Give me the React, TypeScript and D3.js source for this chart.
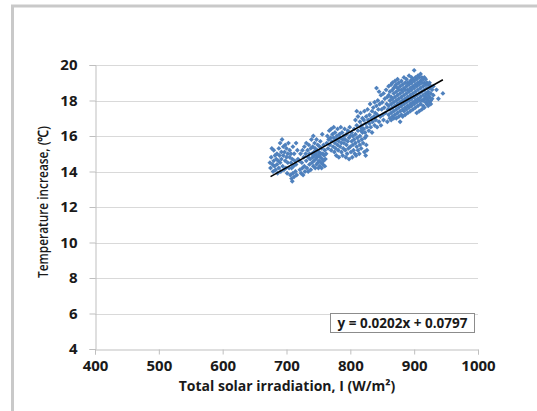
import React, { useEffect, useRef } from 'react';
import * as d3 from 'd3';

type Pt = [number, number];

const xTicks = [400, 500, 600, 700, 800, 900, 1000];
const yTicks = [4, 6, 8, 10, 12, 14, 16, 18, 20];
const trendRange = [675, 945];
const slope = 0.0202;
const intercept = 0.0797;
const equationLabel = 'y = 0.0202x + 0.0797';

// readings, grouped by cloud
const cloudA: Pt[] = [
  [674, 14.5], [675, 14.2], [676, 14.8], [677, 15.3], [678, 14.4], [679, 14.0], [680, 14.6], [680, 15.2],
  [681, 14.3], [682, 14.9], [683, 14.1], [684, 14.7], [685, 15.0], [685, 14.4], [686, 13.9], [687, 14.6],
  [688, 15.3], [688, 14.2], [689, 14.9], [690, 14.5], [690, 15.6], [691, 14.0], [692, 15.1], [692, 14.7],
  [693, 15.8], [694, 14.3], [695, 15.4], [695, 14.9], [696, 14.1], [697, 15.1], [698, 14.6], [698, 15.5],
  [699, 14.2], [700, 14.8], [700, 15.3], [701, 13.9], [702, 15.0], [702, 14.5], [703, 15.6], [704, 14.2],
  [705, 14.8], [705, 15.2], [706, 13.8], [707, 14.5], [707, 15.0], [708, 13.6], [708, 14.2], [709, 13.45],
  [709, 14.7], [710, 13.9], [710, 15.4], [711, 14.3], [712, 13.7], [712, 15.0], [713, 14.6], [714, 14.0],
  [715, 15.6], [715, 14.4], [716, 13.8], [717, 15.2], [718, 14.7],
];

const cloudB: Pt[] = [
  [720, 14.6], [721, 14.1], [722, 15.0], [723, 13.9], [724, 14.5], [725, 15.2], [725, 14.2], [726, 13.8],
  [727, 14.8], [728, 15.4], [728, 14.3], [729, 14.0], [730, 15.0], [731, 14.6], [731, 15.6], [732, 14.2],
  [733, 15.2], [734, 14.8], [734, 14.0], [735, 15.5], [736, 14.4], [736, 15.0], [737, 14.7], [738, 15.3],
  [738, 14.1], [739, 15.8], [740, 14.5], [740, 15.0], [741, 14.8], [741, 15.4], [742, 16.0], [742, 14.3],
  [743, 15.1], [743, 14.6], [744, 15.6], [744, 14.9], [745, 14.2], [745, 15.3], [746, 14.7], [746, 15.0],
  [747, 14.4], [747, 15.8], [748, 15.2], [748, 14.8], [749, 14.5], [749, 15.5], [750, 14.9], [750, 14.2],
  [751, 15.1], [751, 14.6], [752, 15.4], [752, 14.3], [753, 14.8], [753, 15.7], [754, 14.5], [754, 15.0],
  [755, 14.2], [755, 15.3], [756, 14.7], [756, 16.1], [757, 14.4], [757, 15.0], [758, 15.5], [758, 14.6],
  [759, 14.9], [760, 14.3], [760, 15.2], [761, 14.7], [762, 15.0],
];

const cloudC: Pt[] = [
  [763, 15.6], [764, 16.0], [765, 15.3], [766, 15.8], [767, 16.3], [768, 15.5], [769, 15.9], [770, 15.2],
  [770, 16.4], [771, 15.7], [772, 16.1], [773, 15.4], [774, 15.9], [774, 16.5], [775, 15.1], [776, 15.6],
  [776, 16.2], [777, 15.3], [778, 15.8], [778, 14.9], [779, 16.0], [780, 15.5], [780, 16.4], [781, 15.2],
  [782, 15.7], [782, 14.8], [783, 16.1], [784, 15.4], [784, 15.9], [785, 16.5], [786, 15.1], [786, 15.6],
  [787, 16.2], [788, 15.8], [788, 14.9], [789, 15.3], [790, 16.0], [790, 15.6], [791, 16.4], [792, 15.2],
  [792, 15.8], [793, 14.8], [794, 15.5], [794, 16.1], [795, 15.0], [796, 15.7], [796, 16.3], [797, 15.3],
  [798, 15.9], [798, 14.7], [799, 16.5], [800, 15.4], [800, 16.0], [801, 15.1], [802, 15.7], [802, 16.2],
  [803, 14.8], [804, 15.5], [804, 16.0], [805, 15.2], [806, 16.4], [806, 15.8], [807, 15.0], [808, 15.6],
  [808, 16.1], [809, 14.9], [810, 15.4], [810, 16.6], [811, 15.9], [812, 15.2], [812, 16.3], [813, 15.7],
  [814, 15.0], [815, 16.0], [815, 15.5], [816, 16.5], [817, 15.3], [818, 15.8], [819, 16.2], [820, 15.6],
  [821, 16.4], [822, 15.1], [823, 15.9], [824, 14.9], [825, 15.5], [826, 15.2],
];

const cloudD: Pt[] = [
  [808, 16.9], [810, 17.4], [812, 17.1], [815, 16.8], [816, 17.3], [817, 16.3], [818, 16.6], [819, 17.0],
  [820, 16.4], [821, 16.9], [822, 17.4], [823, 16.2], [824, 16.7], [825, 17.1], [825, 16.0], [826, 16.5],
  [827, 17.5], [828, 16.9], [829, 16.3], [830, 17.2], [830, 16.7], [831, 17.8], [832, 16.5], [833, 17.0],
  [834, 17.4], [834, 16.2], [835, 16.8], [836, 17.6], [837, 17.1], [838, 16.6], [838, 17.9], [839, 17.3],
  [840, 16.9], [841, 17.7], [841, 18.7], [842, 17.2], [842, 16.5], [843, 18.0], [844, 17.5], [845, 16.8],
  [845, 18.5], [846, 17.8], [847, 17.1], [848, 18.3], [848, 16.6], [849, 17.5], [850, 17.9], [851, 17.2],
  [852, 18.4], [852, 16.9], [853, 17.6], [854, 18.1], [855, 17.3], [856, 18.6], [857, 17.8], [858, 16.8],
  [858, 18.2], [859, 17.5],
];

const cloudE: Pt[] = [
  [860, 17.2], [860, 17.7], [860, 18.3], [860, 18.8], [862, 17.0], [862, 17.5], [862, 18.0], [862, 18.5],
  [864, 17.3], [864, 17.8], [864, 18.2], [864, 18.9], [864, 16.9], [866, 17.1], [866, 17.6], [866, 18.1],
  [866, 18.6], [866, 19.0], [868, 17.4], [868, 17.9], [868, 18.4], [868, 17.0], [868, 18.7], [870, 17.2],
  [870, 17.7], [870, 18.2], [870, 18.8], [870, 19.1], [872, 17.5], [872, 18.0], [872, 18.5], [872, 17.0],
  [872, 18.9], [874, 17.3], [874, 17.8], [874, 18.3], [874, 18.7], [874, 19.2], [876, 17.6], [876, 18.1],
  [876, 18.6], [876, 17.1], [876, 19.0], [878, 17.4], [878, 17.9], [878, 18.4], [878, 18.8], [878, 16.8],
  [880, 17.7], [880, 18.2], [880, 18.6], [880, 17.2], [880, 19.1], [882, 17.5], [882, 18.0], [882, 18.5],
  [882, 18.9], [882, 17.1], [884, 17.8], [884, 18.3], [884, 18.7], [884, 17.4], [884, 19.3], [886, 17.6],
  [886, 18.1], [886, 18.6], [886, 19.0], [886, 17.2], [888, 17.9], [888, 18.4], [888, 18.8], [888, 17.5],
  [888, 19.2], [890, 17.7], [890, 18.2], [890, 18.6], [890, 19.0], [890, 17.3], [892, 18.0], [892, 18.5],
  [892, 18.9], [892, 17.6], [892, 19.4], [894, 17.8], [894, 18.3], [894, 18.7], [894, 19.1], [894, 17.4],
  [896, 18.1], [896, 18.6], [896, 19.0], [896, 17.7], [896, 19.3], [898, 17.9], [898, 18.4], [898, 18.8],
  [898, 19.2], [898, 17.5], [900, 18.2], [900, 18.7], [900, 19.1], [900, 17.8], [900, 19.7], [902, 18.0],
  [902, 18.5], [902, 18.9], [902, 19.3], [902, 17.6], [904, 18.3], [904, 18.8], [904, 19.2], [904, 17.9],
  [904, 17.3], [906, 18.1], [906, 18.6], [906, 19.0], [906, 19.4], [906, 17.7], [908, 18.4], [908, 18.9],
  [908, 19.3], [908, 18.0], [908, 17.4], [910, 18.2], [910, 18.7], [910, 19.1], [910, 19.5], [910, 17.8],
  [912, 18.5], [912, 19.0], [912, 18.0], [912, 17.5], [912, 19.3], [914, 18.3], [914, 18.8], [914, 19.2],
  [914, 17.7], [914, 18.0], [916, 18.6], [916, 19.0], [916, 18.1], [916, 17.6], [916, 19.3], [918, 18.4],
  [918, 18.9], [918, 17.9], [918, 19.2], [918, 18.2], [920, 18.7], [920, 18.1], [920, 17.8], [920, 19.0],
  [920, 18.4], [922, 18.5], [922, 18.9], [922, 18.0], [922, 17.7], [922, 18.3], [924, 18.2], [924, 18.7],
  [924, 19.0], [924, 17.9], [926, 18.4], [926, 18.0], [926, 18.8], [926, 17.8], [928, 18.6], [928, 18.1],
  [930, 18.3], [930, 18.8], [935, 18.6], [938, 18.1], [945, 18.4],
];

const points: Pt[] = [...cloudA, ...cloudB, ...cloudC, ...cloudD, ...cloudE];

const font = '"Open Sans", sans-serif';
const ink = '#1a1a1a';

const App = () => {
  const ref = useRef<SVGSVGElement>(null);
  const width = 537;
  const height = 411;
  const plot = { left: 95, right: 478, top: 65, bottom: 349 };

  useEffect(() => {
    const svg = d3.select(ref.current);
    svg.selectAll('*').remove();

    //outer frame
    svg
      .append('rect')
      .attr('x', 12.5)
      .attr('y', 6)
      .attr('width', 600)
      .attr('height', 600)
      .attr('fill', '#fff')
      .attr('stroke', '#c9c9c9')
      .attr('stroke-width', 3);

    const x = d3.scaleLinear().domain([400, 1000]).range([plot.left, plot.right]);
    const y = d3.scaleLinear().domain([4, 20]).range([plot.bottom, plot.top]);

    //gridlines
    svg
      .append('g')
      .selectAll('line')
      .data(yTicks.slice(1))
      .join('line')
      .attr('x1', plot.left)
      .attr('x2', plot.right)
      .attr('y1', (d) => Math.round(y(d)) + 0.5)
      .attr('y2', (d) => Math.round(y(d)) + 0.5)
      .attr('stroke', '#d9d9d9');

    //y axis
    const yAxis = svg
      .append('g')
      .attr('transform', `translate(${plot.left + 0.5},0)`)
      .call(d3.axisLeft(y).tickValues(yTicks).tickFormat(d3.format('d')).tickSize(6).tickPadding(12));
    yAxis.select('.domain').attr('stroke', '#bfbfbf');
    yAxis.selectAll('.tick line').attr('stroke', '#bfbfbf');

    //x axis
    const xAxis = svg
      .append('g')
      .attr('transform', `translate(0,${plot.bottom + 0.5})`)
      .call(d3.axisBottom(x).tickValues(xTicks).tickFormat(d3.format('d')).tickSize(5).tickPadding(6));
    xAxis.select('.domain').attr('stroke', '#bfbfbf');
    xAxis.selectAll('.tick line').attr('stroke', '#bfbfbf');

    svg
      .selectAll('.tick text')
      .attr('font-family', font)
      .attr('font-weight', 700)
      .attr('font-size', 15)
      .attr('fill', ink);

    //points
    const marker = d3.symbol().type(d3.symbolSquare).size(12);
    svg
      .append('g')
      .selectAll('path')
      .data(points)
      .join('path')
      .attr('d', marker)
      .attr('transform', (d) => `translate(${x(d[0])},${y(d[1])}) rotate(45)`)
      .attr('fill', '#4f81bd');

    //trend line
    svg
      .append('line')
      .attr('x1', x(trendRange[0]))
      .attr('y1', y(slope * trendRange[0] + intercept))
      .attr('x2', x(trendRange[1]))
      .attr('y2', y(slope * trendRange[1] + intercept))
      .attr('stroke', '#000')
      .attr('stroke-width', 1.5);

    //equation box
    const eq = svg.append('g').attr('transform', 'translate(330,313)');
    eq.append('rect')
      .attr('x', 0.5)
      .attr('y', 0.5)
      .attr('width', 144)
      .attr('height', 19)
      .attr('fill', '#fff')
      .attr('stroke', '#8c8c8c');
    eq.append('text')
      .attr('x', 72.5)
      .attr('y', 15)
      .attr('text-anchor', 'middle')
      .attr('font-family', font)
      .attr('font-weight', 700)
      .attr('font-size', 13.5)
      .attr('fill', ink)
      .text(equationLabel);

    //axis titles
    svg
      .append('text')
      .attr('x', 287)
      .attr('y', 391)
      .attr('text-anchor', 'middle')
      .attr('font-family', font)
      .attr('font-weight', 700)
      .attr('font-size', 14)
      .attr('fill', ink)
      .text('Total solar irradiation, I (W/m²)');

    svg
      .append('text')
      .attr('transform', 'translate(48,202) rotate(-90)')
      .attr('text-anchor', 'middle')
      .attr('font-family', font)
      .attr('font-weight', 600)
      .attr('font-size', 14)
      .attr('textLength', 152)
      .attr('lengthAdjust', 'spacingAndGlyphs')
      .attr('fill', ink)
      .text('Temperature increase, (℃)');
  }, []);

  return (
    <div style={{ position: 'absolute', left: 0, top: 0 }}>
      <svg ref={ref} width={width} height={height} style={{ display: 'block', background: '#fff' }}></svg>
    </div>
  );
};

export default App;
